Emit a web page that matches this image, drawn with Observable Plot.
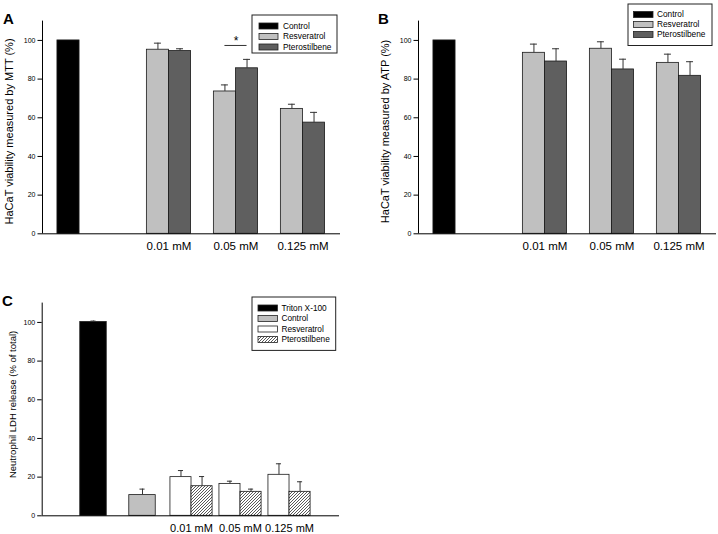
<!DOCTYPE html>
<html><head><meta charset="utf-8">
<script src="https://cdn.jsdelivr.net/npm/d3@7"></script>
<script src="https://cdn.jsdelivr.net/npm/@observablehq/plot@0.6"></script>
<style>
html,body{margin:0;padding:0;background:#fff;}
#fig{position:relative;width:718px;height:534px;background:#fff;font-family:"Liberation Sans",Arial,sans-serif;overflow:hidden;}
.panel{position:absolute;}
.letter{position:absolute;font-weight:bold;font-size:15px;line-height:15px;color:#000;}
</style></head>
<body><div id="fig"></div>
<script>
// ---------------- DATA ----------------
const concentrations = ["0.01 mM", "0.05 mM", "0.125 mM"];
const seriesAB = ["Control", "Resveratrol", "Pterostilbene"];
const yTicks = [0, 20, 40, 60, 80, 100];

// Panel A: MTT viability (%)
const mttControl = 100;
const mttRes = [95.2, 73.6, 64.6];
const mttResErr = [3.4, 3.4, 2.4];
const mttPter = [94.5, 85.6, 57.5];
const mttPterErr = [1.2, 4.6, 5.3];
const mttSignificance = [{conc: "0.05 mM", y: 97.4, label: "*"}];

// Panel B: ATP viability (%)
const atpControl = 100;
const atpRes = [93.6, 95.7, 88.4];
const atpResErr = [4.5, 3.6, 4.5];
const atpPter = [89.1, 85.0, 81.7];
const atpPterErr = [6.6, 5.3, 7.3];

// Panel C: LDH release (% of total)
const seriesC = ["Triton X-100", "Control", "Resveratrol", "Pterostilbene"];
const ldhTriton = 100.2, ldhTritonErr = 0.5;
const ldhControl = 10.7, ldhControlErr = 3.1;
const ldhRes = [20.0, 16.5, 21.2];
const ldhResErr = [3.4, 1.4, 5.7];
const ldhPter = [15.3, 12.4, 12.4];
const ldhPterErr = [5.0, 1.4, 5.2];

// ---------------- STYLE / LAYOUT ----------------
const FONT = '"Liberation Sans", Arial, sans-serif';
const colorsAB = ["#000000", "#c0c0c0", "#5f5f5f"];
const colorsC = ["#000000", "#c0c0c0", "#ffffff", "url(#hatch)"];
const fig = document.getElementById("fig");

// hatch pattern
const defsSvg = d3.select(fig).append("svg").attr("width", 0).attr("height", 0)
  .style("position", "absolute");
const pat = defsSvg.append("defs").append("pattern")
  .attr("id", "hatch").attr("patternUnits", "userSpaceOnUse")
  .attr("width", 3).attr("height", 3);
pat.append("rect").attr("width", 3).attr("height", 3).attr("fill", "#fff");
pat.append("path").attr("d", "M-1,1 l2,-2 M0,3 l3,-3 M2,4 l2,-2")
  .attr("stroke", "#111").attr("stroke-width", 0.7);

// AB geometry (x in units of group spacing)
const BW = 0.33, CAP = 0.052, G0 = 1.5;
function abRows(ctrl, res, resErr, pter, pterErr) {
  const rows = [{series: "Control", x: 0, w: BW, value: ctrl, err: 0}];
  concentrations.forEach((c, i) => {
    const g = G0 + i;
    rows.push({series: "Resveratrol", conc: c, x: g - BW / 2, w: BW, value: res[i], err: resErr[i]});
    rows.push({series: "Pterostilbene", conc: c, x: g + BW / 2, w: BW, value: pter[i], err: pterErr[i]});
  });
  return rows;
}

function barPanel({rows, xDomain, width, height, margins, ylabel, ylabelFont, ylabelDx, ylabelDy,
                   colorDomain, colorRange, groupStart, xFont, extra = []}) {
  const xTicks = concentrations.map((c, i) => groupStart + i);
  const withErr = rows.filter(d => d.err > 0);
  return Plot.plot({
    width, height, ...margins,
    x: {domain: xDomain, axis: null},
    y: {domain: [0, 110], axis: null},
    color: {domain: colorDomain, range: colorRange},
    style: {fontFamily: FONT, background: "transparent", overflow: "visible", color: "#000"},
    marks: [
      Plot.rect(rows, {x1: d => d.x - d.w / 2, x2: d => d.x + d.w / 2, y1: 0, y2: "value",
        fill: "series", stroke: "#1a1a1a", strokeWidth: 0.8}),
      Plot.ruleX(withErr, {x: "x", y1: "value", y2: d => d.value + d.err, stroke: "#333", strokeWidth: 1}),
      Plot.ruleY(withErr, {y: d => d.value + d.err, x1: d => d.x - CAP, x2: d => d.x + CAP, stroke: "#333", strokeWidth: 1}),
      Plot.ruleX([xDomain[0]], {y1: 0, y2: 110, stroke: "#000", strokeWidth: 1}),
      Plot.ruleY([0], {stroke: "#000", strokeWidth: 1}),
      Plot.axisY(yTicks, {tickSize: 4.5, tickPadding: 2.5, fontSize: 7, label: null, stroke: "#000"}),
      Plot.axisX(xTicks, {tickSize: 0, tickPadding: 8, fontSize: xFont, label: null,
        tickFormat: d => concentrations[Math.round(d - groupStart)]}),
      Plot.text([ylabel], {frameAnchor: "left", rotate: -90, dx: ylabelDx, dy: ylabelDy,
        textAnchor: "middle", lineAnchor: "middle", fontSize: ylabelFont, fill: "#000"}),
      ...extra
    ]
  });
}

function place(node, left, top) {
  const div = document.createElement("div");
  div.className = "panel";
  div.style.left = left + "px";
  div.style.top = top + "px";
  div.appendChild(node);
  fig.appendChild(div);
}

function letter(txt, left, top) {
  const d = document.createElement("div");
  d.className = "letter";
  d.textContent = txt;
  d.style.left = left + "px";
  d.style.top = top + "px";
  fig.appendChild(d);
}

function legend({left, top, width, height, labels, fills, rowY, swatchX, swatchW, swatchH, textX, fontSize}) {
  const svg = d3.select(fig).append("svg")
    .attr("width", width + 2).attr("height", height + 2)
    .style("position", "absolute").style("left", (left - 1) + "px").style("top", (top - 1) + "px");
  svg.append("rect").attr("x", 1).attr("y", 1).attr("width", width).attr("height", height)
    .attr("fill", "#fff").attr("stroke", "#222").attr("stroke-width", 1);
  labels.forEach((lab, i) => {
    const y = 1 + rowY[i];
    svg.append("rect").attr("x", 1 + swatchX).attr("y", y - swatchH / 2)
      .attr("width", swatchW).attr("height", swatchH)
      .attr("fill", fills[i]).attr("stroke", "#222").attr("stroke-width", 0.8);
    svg.append("text").attr("x", 1 + textX).attr("y", y).attr("dy", "0.35em")
      .attr("font-family", FONT).attr("font-size", fontSize).attr("fill", "#000").text(lab);
  });
}

// ---------------- PANEL A ----------------
const abMargins = {marginLeft: 42, marginRight: 19, marginTop: 20.6, marginBottom: 36.7};
const abDomain = [-0.388, 4.06];
const sigMarks = [
  Plot.ruleY(mttSignificance, {y: "y",
    x1: d => G0 + concentrations.indexOf(d.conc) - BW / 2,
    x2: d => G0 + concentrations.indexOf(d.conc) + BW / 2, stroke: "#333", strokeWidth: 1}),
  Plot.text(mttSignificance, {x: d => G0 + concentrations.indexOf(d.conc), y: "y", text: "label",
    dy: -4.5, fontSize: 12, fill: "#000"})
];
place(barPanel({
  rows: abRows(mttControl, mttRes, mttResErr, mttPter, mttPterErr),
  xDomain: abDomain, width: 359, height: 270, margins: abMargins,
  ylabel: "HaCaT viability measured by MTT (%)", ylabelFont: 11, ylabelDx: -33, ylabelDy: 4,
  colorDomain: seriesAB, colorRange: colorsAB, groupStart: G0, xFont: 11.5, extra: sigMarks
}), 0, 0);

// ---------------- PANEL B ----------------
place(barPanel({
  rows: abRows(atpControl, atpRes, atpResErr, atpPter, atpPterErr),
  xDomain: abDomain, width: 342, height: 270, margins: {...abMargins, marginRight: 2},
  ylabel: "HaCaT viability measured by ATP (%)", ylabelFont: 11, ylabelDx: -33, ylabelDy: 4,
  colorDomain: seriesAB, colorRange: colorsAB, groupStart: G0, xFont: 11.5
}), 376, 0);

// ---------------- PANEL C ----------------
const BWC = 0.43, BWC0 = 0.54;
const rowsC = [
  {series: "Triton X-100", x: 0, w: BWC0, value: ldhTriton, err: ldhTritonErr},
  {series: "Control", x: 1, w: BWC0, value: ldhControl, err: ldhControlErr}
];
concentrations.forEach((c, i) => {
  const g = 2 + i;
  rowsC.push({series: "Resveratrol", conc: c, x: g - BWC / 2, w: BWC, value: ldhRes[i], err: ldhResErr[i]});
  rowsC.push({series: "Pterostilbene", conc: c, x: g + BWC / 2, w: BWC, value: ldhPter[i], err: ldhPterErr[i]});
});
place(barPanel({
  rows: rowsC, xDomain: [-1.047, 5.02], width: 359, height: 254,
  margins: {marginLeft: 41.7, marginRight: 20, marginTop: 22.6, marginBottom: 18.7},
  ylabel: "Neutrophil LDH release (% of total)", ylabelFont: 9.5, ylabelDx: -29, ylabelDy: -5,
  colorDomain: seriesC, colorRange: colorsC, groupStart: 2, xFont: 11
}), 0, 280);

// ---------------- LETTERS & LEGENDS ----------------
letter("A", 3, 11);
letter("B", 378, 11);
letter("C", 2, 293);

legend({left: 252, top: 15, width: 85, height: 38, labels: seriesAB, fills: colorsAB,
  rowY: [11, 21.5, 32], swatchX: 7, swatchW: 19, swatchH: 6, textX: 31, fontSize: 8.3});
legend({left: 628, top: 3.5, width: 84, height: 41.5, labels: seriesAB, fills: colorsAB,
  rowY: [10.5, 20.5, 30.5], swatchX: 5.5, swatchW: 19.5, swatchH: 6, textX: 29, fontSize: 8.3});
legend({left: 252.3, top: 297.3, width: 83.7, height: 53.4, labels: seriesC, fills: colorsC,
  rowY: [11, 21.4, 32, 42.4], swatchX: 6, swatchW: 19.4, swatchH: 6, textX: 29.4, fontSize: 8.3});
</script>
</body></html>
